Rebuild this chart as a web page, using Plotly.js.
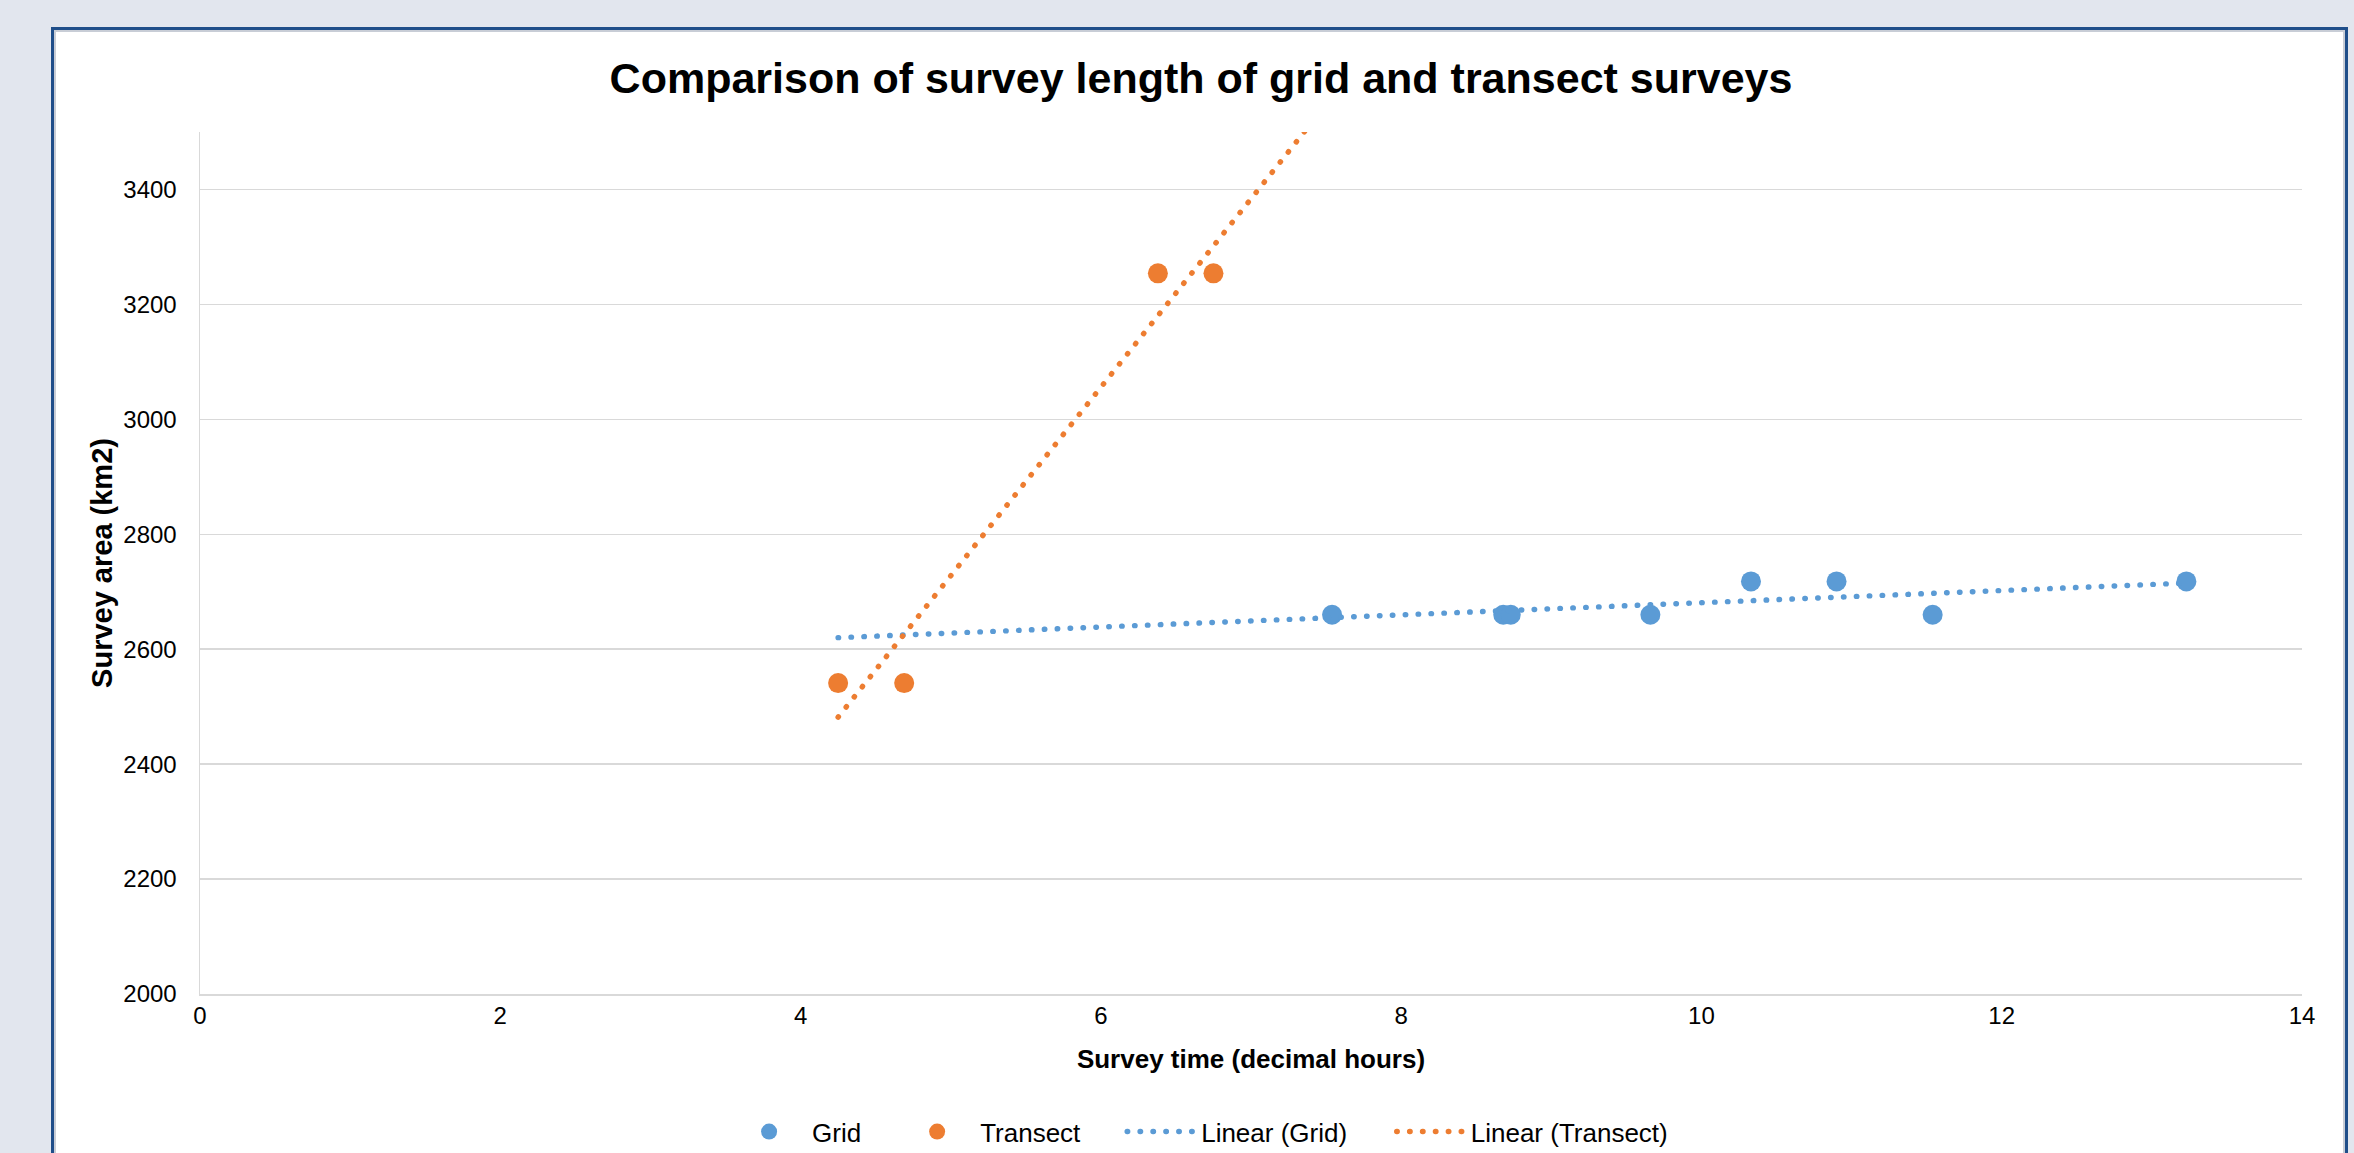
<!DOCTYPE html>
<html>
<head>
<meta charset="utf-8">
<script src="https://cdn.plot.ly/plotly-3.0.1.min.js"></script>
<style>
html,body{margin:0;padding:0;background:#E2E6EE;width:2354px;height:1153px;overflow:hidden;}
#card{position:absolute;left:51px;top:27px;width:2297px;height:1200px;box-sizing:border-box;border:3px solid #1F4E8A;background:#ffffff;box-shadow:inset 0 0 0 2px #C8CDD6;}
#chart{position:absolute;left:0;top:0;width:2354px;height:1153px;}
.js-line{stroke-linecap:round;}
</style>
</head>
<body>
<div id="card"></div>
<div id="chart"></div>
<script>
// ---- data ----
const gridX = [7.54, 8.68, 8.73, 9.66, 10.33, 10.90, 11.54, 13.23];
const gridY = [2660, 2660, 2660, 2660, 2718, 2718, 2660, 2718];
const transectX = [4.25, 4.69, 6.38, 6.75];
const transectY = [2541, 2541, 3254, 3254];
const seriesNames = ["Grid", "Transect", "Linear (Grid)", "Linear (Transect)"];
const xTicks = [0, 2, 4, 6, 8, 10, 12, 14];
const yTicks = [2000, 2200, 2400, 2600, 2800, 3000, 3200, 3400];

// ---- least-squares trendlines (as Excel's "Linear" trendline) ----
function linearFit(xs, ys) {
  const n = xs.length;
  const mx = xs.reduce((a, b) => a + b, 0) / n;
  const my = ys.reduce((a, b) => a + b, 0) / n;
  let sxy = 0, sxx = 0;
  for (let i = 0; i < n; i++) { sxy += (xs[i] - mx) * (ys[i] - my); sxx += (xs[i] - mx) ** 2; }
  const slope = sxy / sxx;
  return { slope: slope, intercept: my - slope * mx };
}
const allX = gridX.concat(transectX);
const trendStart = Math.min(...allX);
const trendEnd = Math.max(...allX);
const gFit = linearFit(gridX, gridY);
const tFit = linearFit(transectX, transectY);
const trendX = [trendStart, trendEnd];
const gridTrendY = trendX.map(x => gFit.intercept + gFit.slope * x);
const transectTrendY = trendX.map(x => tFit.intercept + tFit.slope * x);

const BLUE = "#5B9BD5", ORANGE = "#ED7D31";
const FONT = "Liberation Sans, Arial, sans-serif";
const dotDash = "0.5px,12.4px";

const traces = [
  { x: gridX, y: gridY, type: "scatter", mode: "markers", name: seriesNames[0],
    marker: { color: BLUE, size: 20, symbol: "circle" }, legend: "legend" },
  { x: transectX, y: transectY, type: "scatter", mode: "markers", name: seriesNames[1],
    marker: { color: ORANGE, size: 20, symbol: "circle" }, legend: "legend2" },
  { x: trendX, y: gridTrendY, type: "scatter", mode: "lines", name: seriesNames[2],
    line: { color: BLUE, width: 5.4, dash: dotDash }, legend: "legend3" },
  { x: trendX, y: transectTrendY, type: "scatter", mode: "lines", name: seriesNames[3],
    line: { color: ORANGE, width: 5.4, dash: dotDash }, legend: "legend4" }
];

const legendBase = { orientation: "h", yanchor: "middle", xanchor: "left", y: -0.1597,
  bgcolor: "rgba(0,0,0,0)", borderwidth: 0, font: { family: FONT, size: 26, color: "#000" } };

const layout = {
  width: 2354, height: 1153,
  paper_bgcolor: "rgba(0,0,0,0)", plot_bgcolor: "#ffffff",
  margin: { l: 200, r: 52.4, t: 132, b: 159, autoexpand: false },
  font: { family: FONT, color: "#000" },
  title: { text: "<b>Comparison of survey length of grid and transect surveys</b>",
    font: { family: FONT, size: 43, color: "#000" },
    x: 1201 / 2354, xanchor: "center", xref: "container",
    y: 1 - 78 / 1153, yanchor: "middle", yref: "container" },
  xaxis: {
    range: [0, 14], tickvals: xTicks, ticktext: xTicks.map(String),
    showgrid: false, zeroline: false, showline: true, linecolor: "#D9D9D9", linewidth: 1.5,
    ticks: "", ticklabelstandoff: 2.5,
    tickfont: { family: FONT, size: 24, color: "#000" },
    title: { text: "<b>Survey time (decimal hours)</b>", font: { family: FONT, size: 26, color: "#000" }, standoff: 21 }
  },
  yaxis: {
    range: [2000, 3500], tickvals: yTicks, ticktext: yTicks.map(String),
    showgrid: true, gridcolor: "#D9D9D9", gridwidth: 1.5,
    zeroline: false, showline: true, linecolor: "#D9D9D9", linewidth: 1.5,
    ticks: "", ticklabelstandoff: 17,
    tickfont: { family: FONT, size: 24, color: "#000" },
    title: { text: "<b>Survey area (km2)</b>", font: { family: FONT, size: 29, color: "#000" }, standoff: 2 }
  },
  legend: Object.assign({}, legendBase, { x: (769 - 43 - 200) / 2101.6, itemwidth: 76 }),
  legend2: Object.assign({}, legendBase, { x: (937 - 43 - 200) / 2101.6, itemwidth: 76 }),
  legend3: Object.assign({}, legendBase, { x: (1122 - 200) / 2101.6, itemwidth: 69 }),
  legend4: Object.assign({}, legendBase, { x: (1391.5 - 200) / 2101.6, itemwidth: 69 }),
  showlegend: true
};

Plotly.newPlot("chart", traces, layout, { displayModeBar: false, staticPlot: true });
</script>
</body>
</html>
